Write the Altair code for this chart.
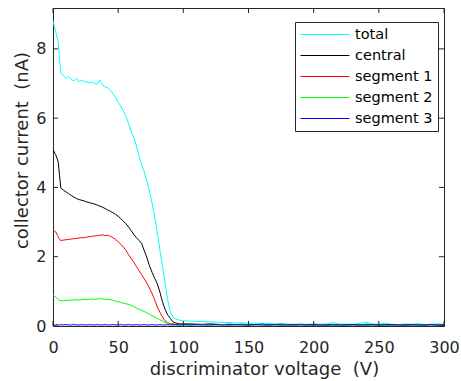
import altair as alt
import pandas as pd

# discriminator voltage (V): fine steps near 0, 2 V to 100 V, then 5 V
voltage = [0, 1, 2, 3, 4, 5, 6] + list(range(8, 101, 2)) + list(range(105, 301, 5))

total = [8.80, 8.65, 8.50, 8.35, 8.20, 7.70, 7.30,
         7.22, 7.15, 7.20, 7.12, 7.08, 7.15, 7.05, 7.10, 7.06, 7.04,
         7.02, 7.05, 7.00, 6.98, 7.10, 6.95, 6.90, 6.88, 6.80, 6.70,
         6.60, 6.45, 6.35, 6.20, 6.05, 5.85, 5.60, 5.45, 5.20, 4.90,
         4.65, 4.45, 4.20, 3.90, 3.55, 3.15, 2.70, 2.20, 1.75, 1.25,
         0.75, 0.40, 0.25, 0.20, 0.18, 0.16, 0.15,
         0.14, 0.13, 0.13, 0.12, 0.11, 0.10, 0.10, 0.09, 0.09, 0.08,
         0.08, 0.07, 0.07, 0.06, 0.07, 0.06, 0.05, 0.06, 0.05, 0.06,
         0.05, 0.06, 0.10, 0.05, 0.06, 0.05, 0.07, 0.11, 0.06, 0.05,
         0.08, 0.05, 0.04, 0.06, 0.05, 0.07, 0.04, 0.05, 0.06, 0.05]

central = [5.10, 5.02, 4.95, 4.85, 4.73, 4.35, 3.98,
           3.92, 3.87, 3.82, 3.77, 3.72, 3.68, 3.65, 3.63, 3.61, 3.58,
           3.56, 3.54, 3.52, 3.49, 3.46, 3.43, 3.39, 3.35, 3.31, 3.27,
           3.22, 3.17, 3.10, 3.03, 2.95, 2.86, 2.75, 2.64, 2.55, 2.47,
           2.38, 2.18, 1.98, 1.74, 1.55, 1.38, 1.22, 0.98, 0.70, 0.48,
           0.32, 0.22, 0.12, 0.09, 0.07, 0.06, 0.06,
           0.06, 0.05, 0.05, 0.06, 0.05, 0.04, 0.05, 0.04, 0.05, 0.04,
           0.04, 0.05, 0.04, 0.04, 0.05, 0.04, 0.03, 0.04, 0.04, 0.03,
           0.04, 0.03, 0.04, 0.04, 0.03, 0.04, 0.03, 0.05, 0.04, 0.03,
           0.04, 0.03, 0.04, 0.03, 0.03, 0.04, 0.03, 0.04, 0.03, 0.03]

segment1 = [2.75, 2.74, 2.72, 2.65, 2.58, 2.50, 2.47,
            2.48, 2.49, 2.50, 2.51, 2.52, 2.53, 2.54, 2.55, 2.55, 2.57,
            2.58, 2.59, 2.60, 2.61, 2.62, 2.63, 2.61, 2.62, 2.59, 2.55,
            2.50, 2.43, 2.36, 2.28, 2.18, 2.06, 1.95, 1.84, 1.72, 1.60,
            1.48, 1.36, 1.24, 1.10, 0.94, 0.76, 0.55, 0.40, 0.26, 0.15,
            0.09, 0.07, 0.06, 0.05, 0.05, 0.05, 0.05,
            0.05, 0.05, 0.04, 0.05, 0.04, 0.04, 0.05, 0.04, 0.04, 0.03,
            0.04, 0.04, 0.03, 0.04, 0.03, 0.04, 0.03, 0.05, 0.03, 0.04,
            0.03, 0.04, 0.03, 0.03, 0.04, 0.03, 0.04, 0.03, 0.03, 0.04,
            0.03, 0.04, 0.03, 0.03, 0.04, 0.03, 0.03, 0.04, 0.03, 0.03]

segment2 = [0.88, 0.86, 0.85, 0.80, 0.76, 0.74, 0.73,
            0.73, 0.74, 0.74, 0.75, 0.75, 0.76, 0.75, 0.76, 0.77, 0.76,
            0.77, 0.78, 0.77, 0.78, 0.79, 0.78, 0.77, 0.77, 0.76, 0.74,
            0.72, 0.70, 0.68, 0.66, 0.64, 0.62, 0.60, 0.56, 0.52, 0.48,
            0.45, 0.42, 0.38, 0.34, 0.30, 0.26, 0.22, 0.18, 0.14, 0.10,
            0.07, 0.05, 0.04, 0.03, 0.03, 0.03, 0.03,
            0.03, 0.03, 0.04, 0.03, 0.03, 0.04, 0.03, 0.03, 0.04, 0.03,
            0.03, 0.04, 0.03, 0.03, 0.04, 0.03, 0.03, 0.04, 0.03, 0.03,
            0.04, 0.03, 0.03, 0.04, 0.03, 0.03, 0.04, 0.03, 0.03, 0.04,
            0.03, 0.03, 0.04, 0.03, 0.03, 0.04, 0.03, 0.03, 0.04, 0.03]

segment3 = [0.04, 0.03, 0.03, 0.04, 0.03, 0.03, 0.04,
            0.03, 0.04, 0.03, 0.03, 0.04, 0.03, 0.03, 0.04, 0.03, 0.03,
            0.04, 0.03, 0.03, 0.04, 0.03, 0.03, 0.04, 0.03, 0.03, 0.04,
            0.03, 0.03, 0.04, 0.03, 0.03, 0.04, 0.03, 0.03, 0.04, 0.03,
            0.03, 0.04, 0.03, 0.03, 0.04, 0.03, 0.03, 0.04, 0.03, 0.03,
            0.04, 0.03, 0.03, 0.04, 0.03, 0.03, 0.04,
            0.03, 0.04, 0.03, 0.03, 0.04, 0.03, 0.03, 0.04, 0.03, 0.03,
            0.04, 0.03, 0.03, 0.04, 0.03, 0.03, 0.04, 0.03, 0.03, 0.04,
            0.03, 0.03, 0.04, 0.03, 0.03, 0.04, 0.03, 0.03, 0.04, 0.03,
            0.03, 0.04, 0.03, 0.03, 0.04, 0.03, 0.03, 0.04, 0.03, 0.03]

series_names = ["total", "central", "segment 1", "segment 2", "segment 3"]
series_colors = ["#00FFFF", "#000000", "#FF0000", "#00FF00", "#0000FF"]
series_values = [total, central, segment1, segment2, segment3]

x_ticks = [0, 50, 100, 150, 200, 250, 300]
y_ticks = [0, 2, 4, 6, 8]

x_title = "discriminator voltage \u00a0(V)"
y_title = "collector current \u00a0(nA)"

rows = []
for k, (name, vals) in enumerate(zip(series_names, series_values)):
    for v, c in zip(voltage, vals):
        rows.append({"voltage": v, "current": c, "series": name, "k": k})
df = pd.DataFrame(rows)

W, H = 391, 318
FONT = "DejaVu Sans"
AX = "#262626"

x_scale = alt.Scale(domain=[0, 300], nice=False, zero=False)
y_scale = alt.Scale(domain=[0, 9.18], nice=False, zero=False)

lines = alt.Chart(df).mark_line(strokeWidth=1, clip=True).encode(
    x=alt.X("voltage:Q", scale=x_scale,
            axis=alt.Axis(values=x_ticks, title=x_title, ticks=False, tickSize=0,
                          labelFlush=False, labelBaseline="alphabetic",
                          labelPadding=26, titleX=211, titleY=48,
                          titleBaseline="alphabetic")),
    y=alt.Y("current:Q", scale=y_scale,
            axis=alt.Axis(values=y_ticks, title=y_title, ticks=False, tickSize=0,
                          labelFlush=False, labelPadding=7,
                          titleX=-22, titleY=142)),
    color=alt.Color("series:N",
                    scale=alt.Scale(domain=series_names, range=series_colors),
                    legend=alt.Legend(title=None, orient="none",
                                      legendX=242, legendY=14)),
    order="k:Q",
    detail="series:N",
)

xt = pd.DataFrame({"t": x_ticks})
yt = pd.DataFrame({"t": y_ticks})

# inward tick marks on all four sides of the box
tick_bottom = alt.Chart(xt).mark_rule(color=AX, strokeWidth=1).encode(
    x=alt.X("t:Q", scale=x_scale), y=alt.value(H), y2=alt.value(H - 5))
tick_top = alt.Chart(xt).mark_rule(color=AX, strokeWidth=1).encode(
    x=alt.X("t:Q", scale=x_scale), y=alt.value(0), y2=alt.value(5))
tick_left = alt.Chart(yt).mark_rule(color=AX, strokeWidth=1).encode(
    y=alt.Y("t:Q", scale=y_scale), x=alt.value(0), x2=alt.value(5))
tick_right = alt.Chart(yt).mark_rule(color=AX, strokeWidth=1).encode(
    y=alt.Y("t:Q", scale=y_scale), x=alt.value(W), x2=alt.value(W - 5))

chart = alt.layer(lines, tick_bottom, tick_top, tick_left, tick_right).properties(
    width=W, height=H,
    autosize=alt.AutoSizeParams(type="none"),
    padding={"left": 53, "top": 8, "right": 17, "bottom": 55},
).configure_view(
    stroke=AX, strokeWidth=1
).configure_axis(
    grid=False, domainColor=AX, domainWidth=1,
    labelFont=FONT, labelFontSize=16, labelColor=AX,
    titleFont=FONT, titleFontSize=18, titleColor=AX, titleFontWeight="normal",
).configure_legend(
    strokeColor=AX, fillColor="white", padding=5, cornerRadius=0,
    symbolType="stroke", symbolSize=2401, symbolStrokeWidth=1,
    clipHeight=15, rowPadding=5,
    labelFont=FONT, labelFontSize=14.5, labelColor="#000000", labelOffset=5,
)

chart.save("out.html", embed_options={"renderer": "svg", "actions": False})
